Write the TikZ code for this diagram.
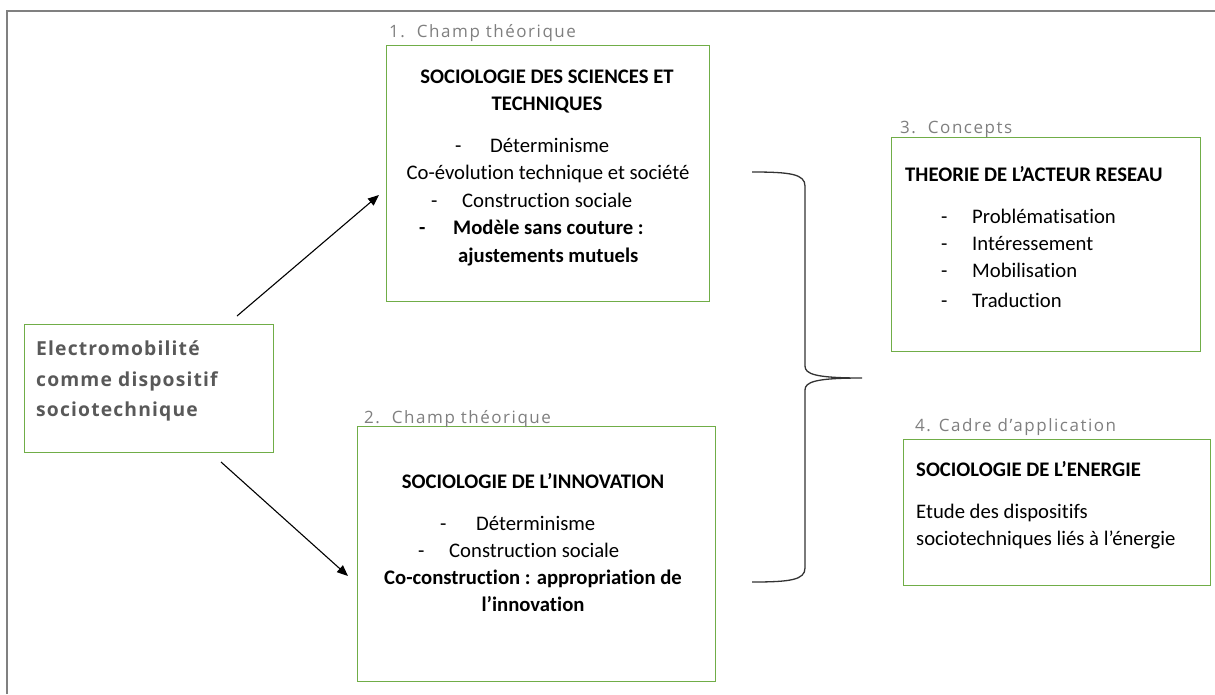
\documentclass[tikz,border=0pt]{standalone}
\usepackage{fontspec}
\setmainfont{Carlito}[RawFeature={-liga;-calt;-dlig;-clig}]
\newfontfamily\labfont{Open Sans}[LetterSpace=9]
\newfontfamily\elfont{Open Sans}[LetterSpace=6]
\usetikzlibrary{arrows.meta}
\definecolor{boxgreen}{HTML}{70AD47}
\definecolor{labgray}{HTML}{7F7F7F}
\definecolor{framegray}{HTML}{808080}
\definecolor{elgray}{HTML}{595959}
\begin{document}
\begin{tikzpicture}[x=1pt,y=-1pt,
  box/.style={draw=boxgreen, line width=1.2pt, inner sep=0pt, anchor=north west},
  lab/.style={anchor=base west, inner sep=0pt, text=labgray, font=\labfont\fontsize{17}{19}\selectfont},
  tx/.style={anchor=base west, inner sep=0pt, font=\fontsize{20.7}{24}\selectfont},
  txc/.style={tx, anchor=base},
  bx/.style={tx, font=\bfseries\fontsize{20.7}{24}\selectfont},
  bxc/.style={bx, anchor=base},
  el/.style={anchor=base west, inner sep=0pt, text=elgray, font=\elfont\bfseries\fontsize{19.3}{22}\selectfont},
  arr/.style={line width=1.1pt, -{Triangle[length=11pt,width=9pt]}},
  brace/.style={line width=1.3pt, draw=black!80}
]
\useasboundingbox (0,0) rectangle (1215,694);
% frame
\draw[framegray, line width=2pt] (7,694) -- (7,11) -- (1215,11);

% boxes
\node[box, minimum width=249pt, minimum height=128pt] (bE) at (24,324) {};
\node[box, minimum width=323pt, minimum height=256pt] (b1) at (386,45) {};
\node[box, minimum width=358pt, minimum height=255pt] (b2) at (357,426) {};
\node[box, minimum width=309pt, minimum height=214pt] (b3) at (891,137) {};
\node[box, minimum width=307pt, minimum height=146pt] (b4) at (903,439) {};

% labels
\node[lab] (l1) at (389,37) {1.\hspace{12pt}Champ théorique};
\node[lab] (l2) at (364,423) {2.\hspace{12pt}Champ théorique};
\node[lab] (l3) at (900,133) {3.\hspace{12pt}Concepts};
\node[lab] (l4) at (915,431) {4. Cadre d’application};

% Electromobilite
\node[el] (e1) at (36,355) {Electromobilité};
\node[el] (e2) at (36,386) {comme dispositif};
\node[el] (e3) at (36,416) {sociotechnique};

% box 1 text
\node[bxc] (t11) at (547,83) {SOCIOLOGIE DES SCIENCES ET};
\node[bxc] (t12) at (547,110) {TECHNIQUES};
\node[tx] (d11) at (455,152) {-};
\node[tx] (t13) at (490,152) {Déterminisme};
\node[txc] (t14) at (548,179) {Co-évolution technique et société};
\node[tx] (d12) at (431,207) {-};
\node[tx] (t15) at (462,207) {Construction sociale};
\node[bx] (d13) at (419,234) {-};
\node[bx] (t16) at (453,234) {Modèle sans couture :};
\node[bx] (t17) at (458,262) {ajustements mutuels};

% box 2 text
\node[bxc] (t21) at (533,488) {SOCIOLOGIE DE L’INNOVATION};
\node[tx] (d21) at (440,530) {-};
\node[tx] (t22) at (476,530) {Déterminisme};
\node[tx] (d22) at (418,557) {-};
\node[tx] (t23) at (449,557) {Construction sociale};
\node[bxc] (t24) at (533,584) {Co-construction : appropriation de};
\node[bxc] (t25) at (533,611) {l’innovation};

% box 3 text
\node[bx] (t31) at (905,181) {THEORIE DE L’ACTEUR RESEAU};
\node[tx] (d31) at (941,223) {-};
\node[tx] (t32) at (972,223) {Problématisation};
\node[tx] (d32) at (941,250) {-};
\node[tx] (t33) at (972,250) {Intéressement};
\node[tx] (d33) at (941,277) {-};
\node[tx] (t34) at (972,277) {Mobilisation};
\node[tx] (d34) at (941,307) {-};
\node[tx] (t35) at (972,307) {Traduction};

% box 4 text
\node[bx] (t41) at (916,476) {SOCIOLOGIE DE L’ENERGIE};
\node[tx] (t42) at (916,518) {Etude des dispositifs};
\node[tx] (t43) at (916,545) {sociotechniques liés à l’énergie};

% arrows
\coordinate (a1s) at (237,316);
\coordinate (a1e) at (379,195);
\coordinate (a2s) at (221,462);
\coordinate (a2e) at (348,576);
\draw[arr] (a1s) -- (a1e);
\draw[arr] (a2s) -- (a2e);

% brace
\coordinate (bt) at (752,172);
\coordinate (bm) at (862,378);
\coordinate (bb) at (752,582);
\draw[brace] (bt) .. controls (790,172) and (805,174) .. (805,186) -- (805,366)
  .. controls (805,374) and (815,378) .. (bm)
  .. controls (815,378) and (805,382) .. (805,390) -- (805,568)
  .. controls (805,580) and (790,582) .. (bb);
\end{tikzpicture}
\end{document}
